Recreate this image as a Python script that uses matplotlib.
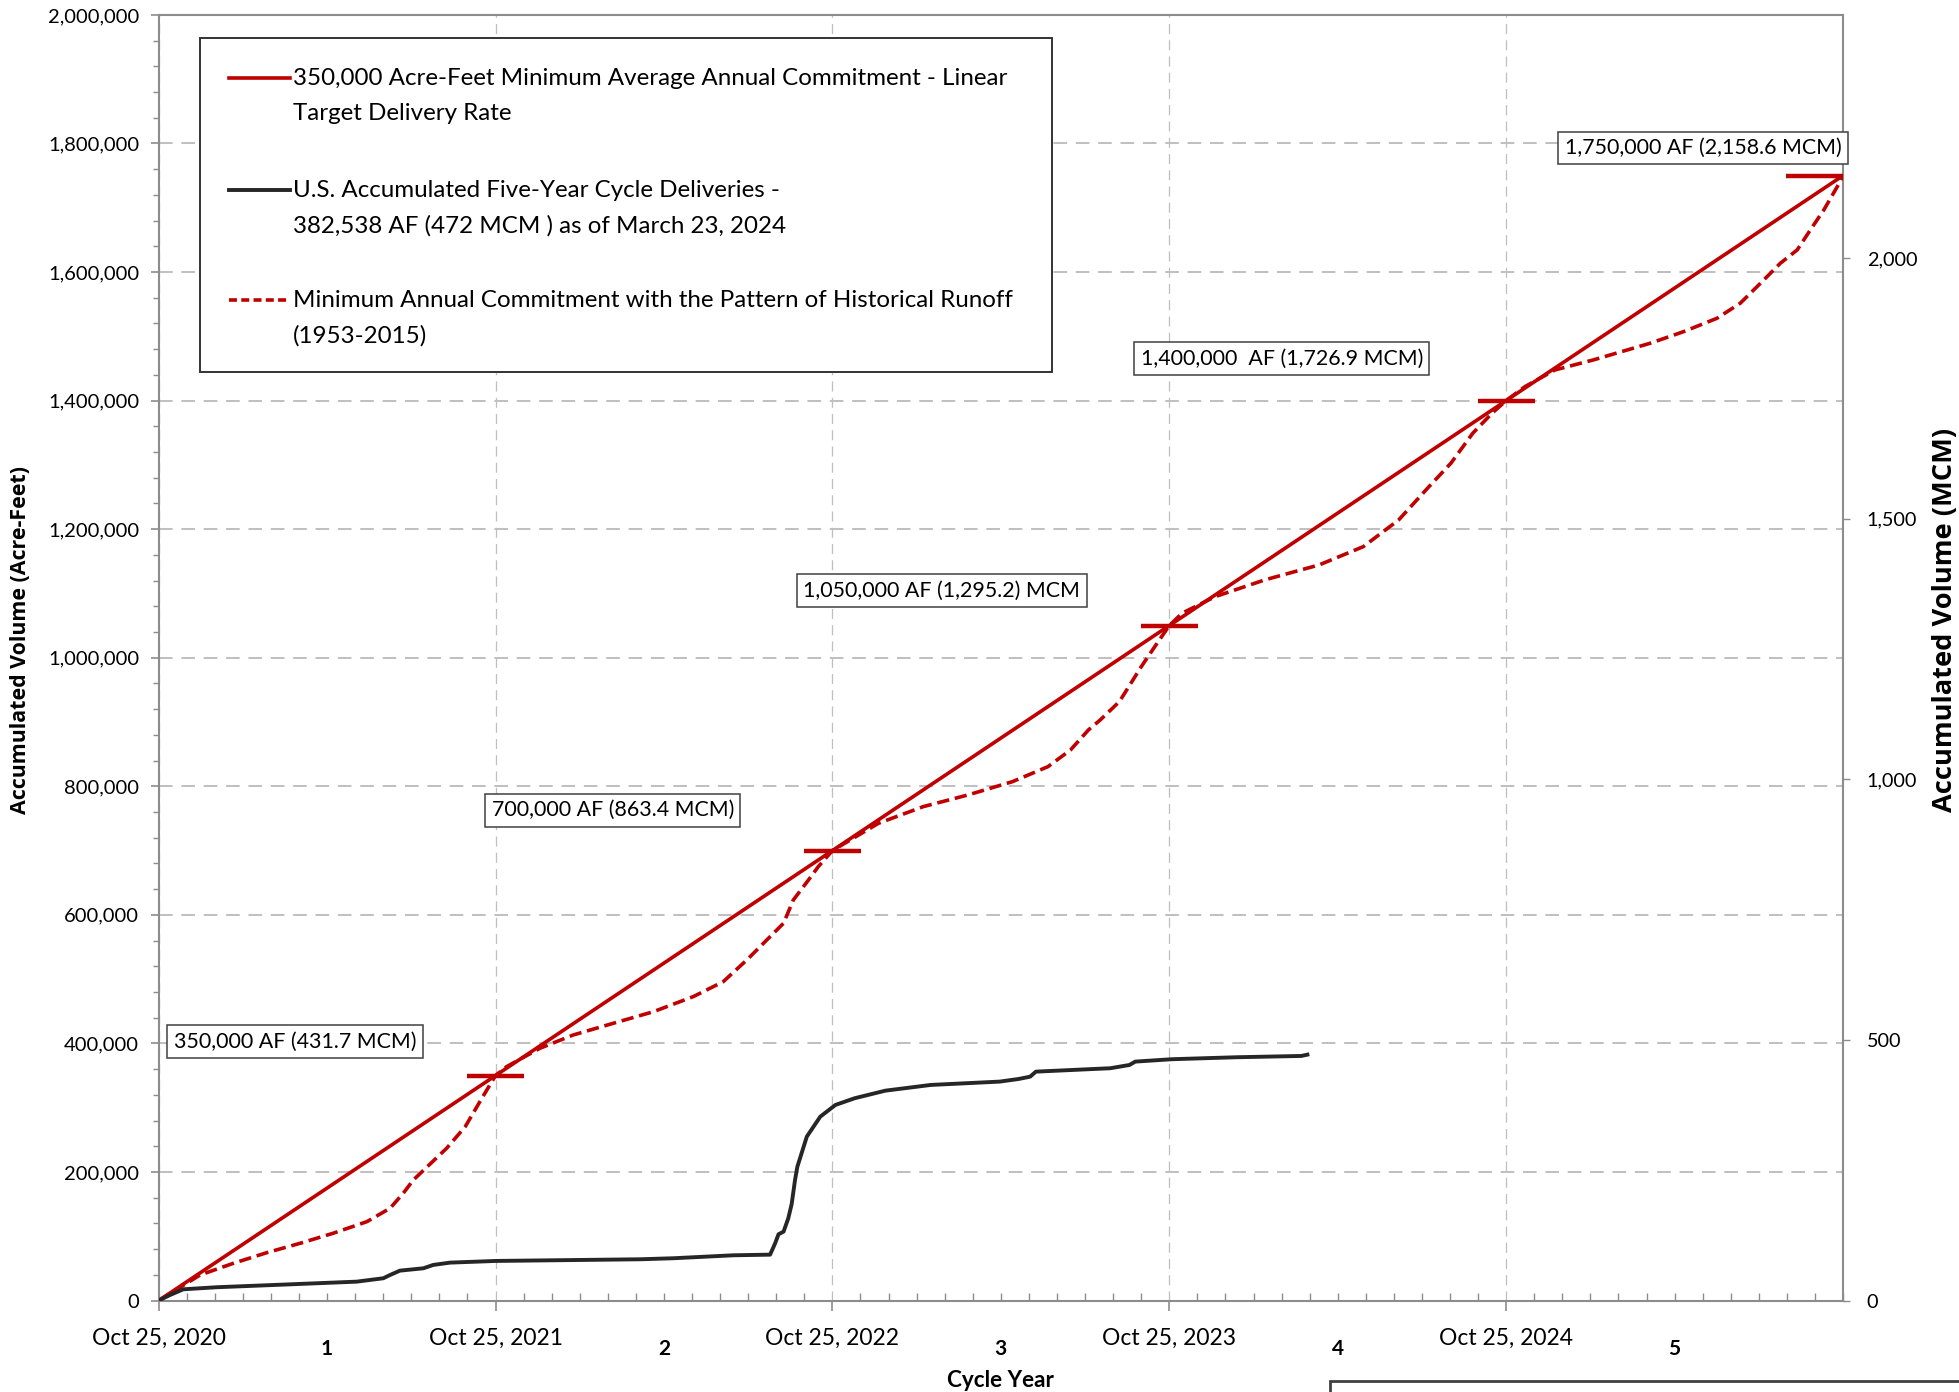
import matplotlib
matplotlib.use("Agg")
import matplotlib.pyplot as plt
from matplotlib.lines import Line2D
from matplotlib.patches import Rectangle
from matplotlib.ticker import MultipleLocator, FuncFormatter
import matplotlib.transforms as mtransforms

plt.rcParams['font.family'] = ['Lato', 'DejaVu Sans']

# =====================================================
# DATA (x in years since Oct 25, 2020)
# =====================================================
AF_TO_MCM = 1233.48 / 1e6

cycle_years = [0, 1, 2, 3, 4, 5]
target_af = [0, 350000, 700000, 1050000, 1400000, 1750000]

# U.S. accumulated deliveries
delivered_x = [0, 0.034, 0.073, 0.172, 0.37, 0.588, 0.667, 0.687, 0.716, 0.786,
               0.815, 0.865, 1.0, 1.429, 1.528, 1.706, 1.815, 1.83, 1.84, 1.855,
               1.869, 1.879, 1.889, 1.896, 1.924, 1.964, 2.009, 2.066, 2.157, 2.292,
               2.497, 2.553, 2.587, 2.604, 2.825, 2.882, 2.899, 3.007, 3.2, 3.392, 3.41]
delivered_af = [0, 8700, 17500, 20700, 24800, 29400, 34700, 39800, 46500, 50200,
                55400, 59000, 61600, 64200, 65800, 70400, 71400, 89100, 103100, 107200,
                128000, 150000, 187600, 208300, 255000, 286100, 304300, 314700, 326500, 335400,
                340600, 344700, 348300, 356100, 361400, 366500, 371700, 375400, 378500, 380500, 382538]

# minimum commitment with the historical runoff pattern
pattern_x = [0, 0.123, 0.222, 0.321, 0.42, 0.518, 0.618, 0.687, 0.726, 0.756, 0.855, 0.91, 0.962, 1.0,
             1.033, 1.132, 1.231, 1.35, 1.469, 1.587, 1.676, 1.746, 1.815, 1.855, 1.884, 1.929, 1.958, 2.0,
             2.045, 2.137, 2.27, 2.403, 2.535, 2.64, 2.707, 2.76, 2.795, 2.852, 2.917, 2.957, 3.0,
             3.038, 3.136, 3.283, 3.445, 3.576, 3.681, 3.771, 3.836, 3.901, 3.958, 4.0,
             4.056, 4.145, 4.259, 4.428, 4.527, 4.626, 4.695, 4.755, 4.814, 4.864, 4.903, 4.943, 4.983, 5.0]
pattern_af = [0, 39800, 58000, 74500, 89100, 104700, 122700, 143600, 166900, 187600, 237000, 270500, 317000, 350000,
              363900, 392500, 413200, 431400, 449400, 472800, 496100, 529900, 566100, 587000, 623200, 654300, 675000, 700000,
              714000, 742500, 768400, 786600, 807300, 830600, 856600, 887700, 903200, 931800, 986200, 1017300, 1050000,
              1069200, 1095000, 1121000, 1144400, 1172800, 1214400, 1266200, 1302600, 1349300, 1380300, 1400000,
              1421800, 1447700, 1463300, 1489300, 1507300, 1528100, 1551500, 1582600, 1613700, 1634400, 1665500, 1696600, 1732900, 1750000]

x_tick_labels = ["Oct 25, 2020", "Oct 25, 2021", "Oct 25, 2022", "Oct 25, 2023", "Oct 25, 2024"]
cycle_numbers = ["1", "2", "3", "4", "5"]

mark_labels = ["350,000 AF (431.7 MCM)", "700,000 AF (863.4 MCM)", "1,050,000 AF (1,295.2) MCM",
               "1,400,000  AF (1,726.9 MCM)", "1,750,000 AF (2,158.6 MCM)"]
mark_label_pos = [(0.405, 402800), (1.348, 762800), (2.325, 1104000), (3.334, 1465200), (4.585, 1793000)]

legend_labels = [
    "350,000 Acre-Feet Minimum Average Annual Commitment - Linear\nTarget Delivery Rate",
    "U.S. Accumulated Five-Year Cycle Deliveries -\n382,538 AF (472 MCM ) as of March 23, 2024",
    "Minimum Annual Commitment with the Pattern of Historical Runoff\n(1953-2015)",
]

RED = "#C00000"
BLACK = "#262626"
GRID = "#BFBFBF"
SPINE = "#8C8C8C"

# =====================================================
# FIGURE
# =====================================================
fig = plt.figure(figsize=(19.59, 13.92), dpi=100)
ax = fig.add_axes([0.0810, 0.0657, 0.8598, 0.9236])

ax.set_xlim(0, 5)
ax.set_ylim(0, 2000000)

# grid
ax.yaxis.grid(True, color=GRID, lw=1.4, linestyle=(0, (7, 4.5)))
ax.xaxis.grid(True, color=GRID, lw=0.9, linestyle=(0, (8, 5)))
ax.set_axisbelow(True)

# series
ax.plot(cycle_years, target_af, color=RED, lw=2.6, zorder=3, solid_capstyle="butt")
ax.plot(pattern_x, pattern_af, color=RED, lw=2.6, dashes=(3.4, 1.6), zorder=3)
ax.plot(delivered_x, delivered_af, color=BLACK, lw=2.8, zorder=4, solid_joinstyle="round")

# cycle year markers
half_w = 0.085
for x, y in zip(cycle_years[1:], target_af[1:]):
    x_right = min(x + half_w, cycle_years[-1])
    ax.hlines(y, x_right - 2 * half_w, x_right, color=RED, lw=3.2, zorder=4)

# boxed labels
for text, (x, y) in zip(mark_labels, mark_label_pos):
    ax.text(x, y, text, ha="center", va="center", fontsize=15.4, zorder=6, clip_on=False,
            bbox=dict(boxstyle="square,pad=0.3", fc="white", ec="#404040", lw=1.1))

# axes / ticks
for side in ["left", "right", "top", "bottom"]:
    ax.spines[side].set_color(SPINE)
    ax.spines[side].set_linewidth(1.5)

ax.yaxis.set_major_locator(MultipleLocator(200000))
ax.yaxis.set_minor_locator(MultipleLocator(40000))
ax.yaxis.set_major_formatter(FuncFormatter(lambda v, p: f"{int(v):,}"))
ax.tick_params(axis="y", which="major", direction="out", length=6, width=1.2, color=SPINE,
               labelsize=14.5, pad=8)
ax.tick_params(axis="y", which="minor", direction="out", length=4, width=1.0, color=SPINE)

ax.set_xticks(range(len(x_tick_labels)))
ax.set_xticklabels(x_tick_labels)
ax.xaxis.set_minor_locator(MultipleLocator(1 / 12))
ax.tick_params(axis="x", which="major", direction="out", length=7, width=1.2, color=SPINE,
               labelsize=16.5, pad=12.5)
ax.tick_params(axis="x", which="minor", direction="in", length=6, width=1.0, color=SPINE)

trans = mtransforms.blended_transform_factory(ax.transData, ax.transAxes)
for i, num in enumerate(cycle_numbers):
    ax.text(i + 0.5, -0.038, num, transform=trans, ha="center", va="center",
            fontsize=15, fontweight="bold")

ax.set_xlabel("Cycle Year", fontsize=16.2, fontweight="bold")
ax.xaxis.set_label_coords(0.5, -0.062)
ax.xaxis.label.set_va("center")

ax.set_ylabel("Accumulated Volume (Acre-Feet)", fontsize=15.4, fontweight="bold",
              family=["Open Sans", "DejaVu Sans"])
ax.yaxis.set_label_coords(-0.082, 0.514)
ax.yaxis.label.set_va("center")

ax2 = ax.twinx()
ax2.set_ylim(0, 2000000 * AF_TO_MCM)
ax2.yaxis.set_major_locator(MultipleLocator(500))
ax2.yaxis.set_major_formatter(FuncFormatter(lambda v, p: f"{int(v):,}"))
ax2.tick_params(axis="y", direction="out", length=5, width=1.0, color=SPINE, labelsize=14.3, pad=12)
for side in ["left", "right", "top", "bottom"]:
    ax2.spines[side].set_visible(False)
ax2.set_ylabel("Accumulated Volume (MCM)", fontsize=19.6, fontweight="bold",
               family=["Open Sans", "DejaVu Sans"])
ax2.yaxis.set_label_coords(1.0605, 0.529)
ax2.yaxis.label.set_va("center")

# =====================================================
# LEGEND (drawn by hand so handles sit on first text line)
# =====================================================
ax.add_patch(Rectangle((0.0245, 0.7223), 0.5059, 0.2597, transform=ax.transAxes,
                       fc="white", ec="#333333", lw=1.4, zorder=7))
handle_styles = [dict(color=RED, lw=2.6), dict(color=BLACK, lw=2.8),
                 dict(color=RED, lw=2.6, dashes=(2.2, 1.2))]
first_line_y = [0.9506, 0.8635, 0.7779]
line_gap = 0.0275
for label, style, y0 in zip(legend_labels, handle_styles, first_line_y):
    ax.add_line(Line2D([0.0417, 0.0778], [y0, y0], transform=ax.transAxes, zorder=8, **style))
    for j, line in enumerate(label.split("\n")):
        ax.text(0.0795, y0 - j * line_gap, line, transform=ax.transAxes, ha="left",
                va="center", fontsize=17.4, zorder=8)

# partial box at the bottom right edge of the page
fig.add_artist(Rectangle((1330 / 1959, -0.02), 0.4, 0.02 + 11 / 1392, transform=fig.transFigure,
                         fc="white", ec="#404040", lw=2.0))

fig.savefig("out.png", dpi=100)
